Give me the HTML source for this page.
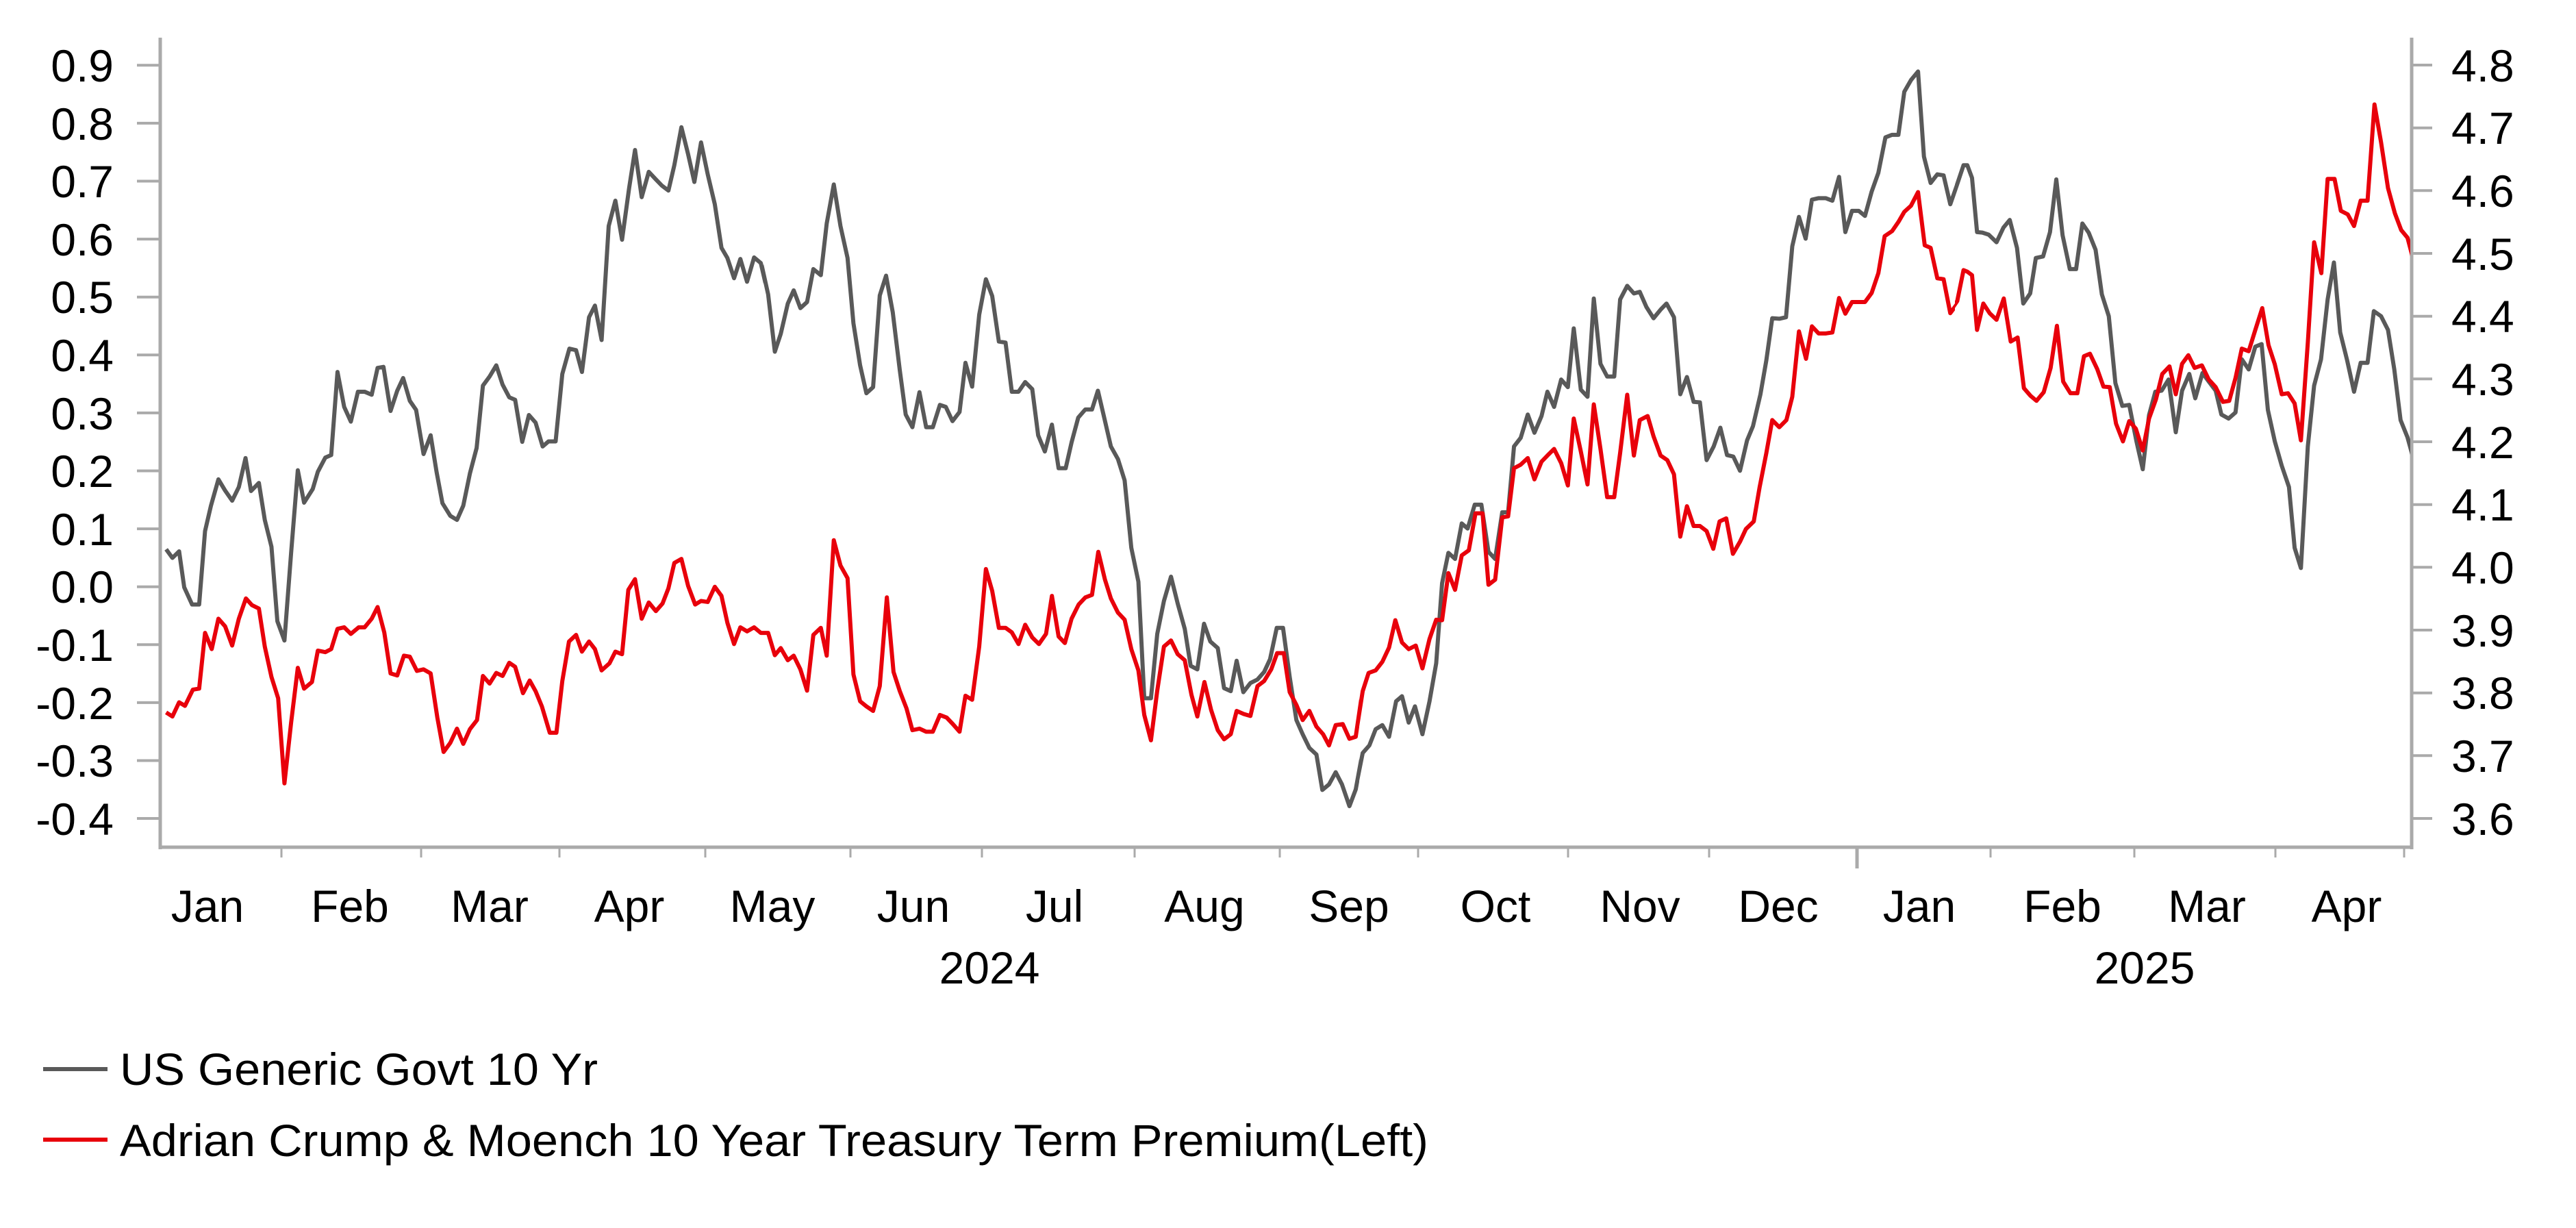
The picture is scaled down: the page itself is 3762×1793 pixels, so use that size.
<!DOCTYPE html>
<html><head><meta charset="utf-8"><style>
html,body{margin:0;padding:0;background:#fff;}
svg{display:block;}
text{font-family:"Liberation Sans",Arial,sans-serif;font-size:66px;fill:#000;}
</style></head><body>
<svg width="3762" height="1793" viewBox="0 0 3762 1793" xmlns="http://www.w3.org/2000/svg">
<defs>
<clipPath id="c1" clipPathUnits="userSpaceOnUse"><rect x="236" y="0" width="879" height="1300"/></clipPath>
<clipPath id="c2" clipPathUnits="userSpaceOnUse"><rect x="1115" y="0" width="870" height="1300"/></clipPath>
<clipPath id="c3" clipPathUnits="userSpaceOnUse"><rect x="1985" y="0" width="870" height="1300"/></clipPath>
<clipPath id="c4" clipPathUnits="userSpaceOnUse"><rect x="2855" y="0" width="665" height="1300"/></clipPath>
</defs>
<g stroke="#aaaaaa" fill="none">
<line x1="234" y1="55" x2="234" y2="1240" stroke-width="5"/>
<line x1="3522" y1="55" x2="3522" y2="1240" stroke-width="5"/>
<line x1="232" y1="1237" x2="3524" y2="1237" stroke-width="5"/>
<g stroke-width="4">
<line x1="200" y1="95.3" x2="234" y2="95.3"/><line x1="200" y1="179.9" x2="234" y2="179.9"/><line x1="200" y1="264.5" x2="234" y2="264.5"/><line x1="200" y1="349.1" x2="234" y2="349.1"/><line x1="200" y1="433.7" x2="234" y2="433.7"/><line x1="200" y1="518.3" x2="234" y2="518.3"/><line x1="200" y1="602.9" x2="234" y2="602.9"/><line x1="200" y1="687.5" x2="234" y2="687.5"/><line x1="200" y1="772.1" x2="234" y2="772.1"/><line x1="200" y1="856.7" x2="234" y2="856.7"/><line x1="200" y1="941.3" x2="234" y2="941.3"/><line x1="200" y1="1025.9" x2="234" y2="1025.9"/><line x1="200" y1="1110.5" x2="234" y2="1110.5"/><line x1="200" y1="1195" x2="234" y2="1195"/>
<line x1="3522" y1="95" x2="3552" y2="95"/><line x1="3522" y1="186.7" x2="3552" y2="186.7"/><line x1="3522" y1="278.3" x2="3552" y2="278.3"/><line x1="3522" y1="370" x2="3552" y2="370"/><line x1="3522" y1="461.7" x2="3552" y2="461.7"/><line x1="3522" y1="553.3" x2="3552" y2="553.3"/><line x1="3522" y1="645" x2="3552" y2="645"/><line x1="3522" y1="736.7" x2="3552" y2="736.7"/><line x1="3522" y1="828.3" x2="3552" y2="828.3"/><line x1="3522" y1="920" x2="3552" y2="920"/><line x1="3522" y1="1011.7" x2="3552" y2="1011.7"/><line x1="3522" y1="1103.3" x2="3552" y2="1103.3"/><line x1="3522" y1="1195" x2="3552" y2="1195"/>
</g>
<g stroke-width="3">
<line x1="411" y1="1237" x2="411" y2="1252"/><line x1="615" y1="1237" x2="615" y2="1252"/><line x1="817" y1="1237" x2="817" y2="1252"/><line x1="1030" y1="1237" x2="1030" y2="1252"/><line x1="1242" y1="1237" x2="1242" y2="1252"/><line x1="1434" y1="1237" x2="1434" y2="1252"/><line x1="1657" y1="1237" x2="1657" y2="1252"/><line x1="1869" y1="1237" x2="1869" y2="1252"/><line x1="2071" y1="1237" x2="2071" y2="1252"/><line x1="2290" y1="1237" x2="2290" y2="1252"/><line x1="2496" y1="1237" x2="2496" y2="1252"/><line x1="2712" y1="1237" x2="2712" y2="1268" stroke-width="5"/><line x1="2907" y1="1237" x2="2907" y2="1252"/><line x1="3117" y1="1237" x2="3117" y2="1252"/><line x1="3323" y1="1237" x2="3323" y2="1252"/><line x1="3511" y1="1237" x2="3511" y2="1252"/>
</g>
</g>
<g text-anchor="end">
<text x="166" y="119">0.9</text><text x="166" y="204">0.8</text><text x="166" y="288">0.7</text><text x="166" y="373">0.6</text><text x="166" y="457">0.5</text><text x="166" y="542">0.4</text><text x="166" y="627">0.3</text><text x="166" y="711">0.2</text><text x="166" y="796">0.1</text><text x="166" y="880">0.0</text><text x="166" y="965">-0.1</text><text x="166" y="1050">-0.2</text><text x="166" y="1134">-0.3</text><text x="166" y="1219">-0.4</text>
</g>
<g>
<text x="3580" y="119">4.8</text><text x="3580" y="210">4.7</text><text x="3580" y="302">4.6</text><text x="3580" y="394">4.5</text><text x="3580" y="485">4.4</text><text x="3580" y="577">4.3</text><text x="3580" y="669">4.2</text><text x="3580" y="760">4.1</text><text x="3580" y="852">4.0</text><text x="3580" y="944">3.9</text><text x="3580" y="1035">3.8</text><text x="3580" y="1127">3.7</text><text x="3580" y="1219">3.6</text>
</g>
<g text-anchor="middle">
<text x="303" y="1346">Jan</text><text x="511" y="1346">Feb</text><text x="715" y="1346">Mar</text><text x="919" y="1346">Apr</text><text x="1128" y="1346">May</text><text x="1334" y="1346">Jun</text><text x="1540" y="1346">Jul</text><text x="1759" y="1346">Aug</text><text x="1970" y="1346">Sep</text><text x="2184" y="1346">Oct</text><text x="2395" y="1346">Nov</text><text x="2597" y="1346">Dec</text><text x="2803" y="1346">Jan</text><text x="3012" y="1346">Feb</text><text x="3223" y="1346">Mar</text><text x="3427" y="1346">Apr</text>
<text x="1445" y="1436">2024</text><text x="3132" y="1436">2025</text>
</g>
<line x1="63" y1="1561" x2="157" y2="1561" stroke="#595959" stroke-width="6"/>
<text x="175" y="1584" textLength="698" lengthAdjust="spacingAndGlyphs">US Generic Govt 10 Yr</text>
<line x1="63" y1="1664" x2="157" y2="1664" stroke="#e8000b" stroke-width="6"/>
<text x="175" y="1688" textLength="1911" lengthAdjust="spacingAndGlyphs">Adrian Crump &amp; Moench 10 Year Treasury Term Premium(Left)</text>

<g fill="none" stroke-width="6" stroke-linejoin="round">
<g clip-path="url(#c1)"><g transform="translate(230,60) scale(0.57398,0.73980)">
<polyline vector-effect="non-scaling-stroke" stroke="#595959" points="22,1003 38,1020 55,1007 68,1078 88,1112 106,1112 121,967 136,917 155,865 172,887 190,907 207,880 224,823 238,888 258,872 273,945 290,998 305,1145 323,1183 340,1010 357,847 373,911 395,884 408,850 427,822 442,817 458,653 475,722 492,751 510,692 527,692 545,698 560,645 575,643 593,730 610,690 625,665 642,710 658,728 677,815 695,778 710,850 725,912 745,937 762,945 778,917 795,853 812,803 828,680 845,662 862,640 878,678 895,703 910,708 928,791 945,738 962,753 980,800 995,790 1013,790 1030,657 1048,607 1065,610 1080,653 1098,545 1113,522 1130,590 1148,365 1165,315 1182,392 1200,290 1215,215 1232,308 1250,258 1268,273 1283,285 1300,295 1315,245 1333,170 1350,223 1366,278 1383,200 1400,263 1418,322 1435,408 1450,428 1467,468 1483,430 1500,475 1518,427 1535,438 1552,495 1568,615"/>
<polyline vector-effect="non-scaling-stroke" stroke="#e8000b" points="22,1325 38,1333 55,1305 70,1312 90,1280 106,1278 121,1168 138,1200 155,1140 172,1155 190,1193 207,1140 225,1100 240,1113 258,1120 273,1195 290,1255 307,1297 323,1465 340,1345 357,1237 373,1278 393,1265 408,1203 427,1206 442,1200 458,1160 475,1157 492,1170 512,1157 527,1157 545,1140 560,1117 577,1167 593,1248 610,1252 627,1213 642,1215 660,1243 677,1240 695,1248 712,1335 728,1403 745,1385 762,1357 778,1387 795,1358 813,1340 828,1253 845,1268 862,1247 878,1253 895,1227 910,1235 930,1287 947,1262 962,1283 978,1313 998,1365 1015,1365 1030,1263 1047,1185 1065,1172 1080,1205 1098,1185 1113,1200 1130,1242 1150,1228 1165,1205 1182,1210 1198,1083 1215,1062 1232,1140 1250,1108 1268,1125 1285,1110 1300,1080 1315,1030 1333,1022 1350,1075 1368,1112 1383,1105 1400,1107 1418,1077 1435,1095 1450,1148 1467,1190 1483,1157 1500,1165 1518,1157 1535,1168 1552,1168 1568,1213"/>
</g></g>
<g clip-path="url(#c2)"><g transform="translate(1100,60) scale(0.57398,0.73980)">
<polyline vector-effect="non-scaling-stroke" stroke="#595959" points="0,440 5,425 20,437 38,500 55,613 70,578 88,518 103,492 120,527 137,515 153,450 172,462 187,360 205,283 222,365 240,428 255,557 272,640 288,695 305,683 322,502 338,463 355,535 373,650 388,737 405,762 423,693 440,762 457,762 475,718 490,722 507,750 525,732 540,635 557,682 575,540 592,470 608,503 625,593 642,595 658,692 675,692 692,673 710,687 725,778 742,810 760,757 777,843 795,843 810,792 827,743 845,727 862,727 877,690 893,743 910,800 928,825 945,867 962,1000 980,1067 995,1297 1012,1297 1028,1170 1045,1105 1063,1057 1080,1110 1098,1160 1113,1233 1130,1240 1147,1150 1163,1185 1182,1198 1198,1277 1215,1283 1230,1223 1247,1285 1265,1267 1283,1260 1300,1245 1315,1220 1332,1158 1348,1158 1365,1255 1382,1340 1398,1368 1415,1395 1433,1408 1448,1478 1465,1467 1482,1443 1498,1467 1517,1510 1533,1477 1550,1405 1568,1393"/>
<polyline vector-effect="non-scaling-stroke" stroke="#e8000b" points="0,1157 8,1160 20,1168 38,1168 55,1212 70,1198 88,1222 103,1213 120,1240 137,1282 153,1172 172,1158 187,1213 205,985 222,1035 240,1060 255,1250 272,1303 288,1313 305,1322 322,1273 340,1098 357,1245 373,1283 390,1317 405,1360 423,1357 440,1363 457,1363 475,1330 492,1335 508,1348 525,1363 540,1292 557,1300 575,1195 592,1042 608,1085 625,1158 642,1158 658,1167 675,1190 692,1152 710,1177 727,1190 745,1170 760,1095 777,1175 793,1188 810,1140 828,1112 845,1098 862,1093 878,1008 895,1063 910,1100 928,1128 945,1142 962,1200 980,1242 995,1330 1012,1380 1028,1282 1045,1195 1063,1183 1080,1210 1098,1222 1115,1290 1130,1333 1148,1265 1165,1320 1182,1360 1198,1378 1215,1368 1230,1322 1248,1328 1265,1332 1283,1273 1300,1263 1318,1240 1333,1208 1350,1208 1365,1285 1382,1310 1398,1340 1415,1322 1433,1353 1450,1368 1465,1390 1482,1350 1500,1348 1517,1377 1533,1373 1550,1283 1568,1243"/>
</g></g>
<g clip-path="url(#c3)"><g transform="translate(1970,60) scale(0.57398,0.73980)">
<polyline vector-effect="non-scaling-stroke" stroke="#595959" points="0,1510 17,1475 35,1405 52,1390 68,1358 85,1350 102,1373 120,1303 135,1293 152,1345 168,1313 187,1368 205,1303 222,1228 237,1070 253,1010 270,1022 287,952 302,962 320,915 337,915 355,1008 372,1022 390,930 405,930 420,800 437,783 455,737 472,773 490,740 505,692 522,722 540,668 557,683 572,567 590,688 607,702 623,508 640,637 657,662 675,662 690,510 708,483 725,498 740,495 757,525 775,547 793,530 808,518 827,545 843,697 860,663 877,712 893,713 910,827 928,800 945,763 962,817 978,820 995,848 1013,788 1028,760 1047,697 1062,630 1077,547 1095,548 1112,545 1128,405 1145,347 1162,390 1178,313 1195,310 1213,310 1230,315 1247,268 1263,377 1280,335 1297,335 1313,345 1330,297 1347,260 1365,190 1382,185 1398,185 1413,100 1430,77 1448,60 1463,228 1480,280 1497,263 1513,265 1530,322 1548,282 1568,243"/>
<polyline vector-effect="non-scaling-stroke" stroke="#e8000b" points="0,1378 17,1372 35,1283 50,1247 68,1242 85,1225 102,1197 118,1143 135,1187 152,1200 170,1193 187,1238 205,1180 222,1142 237,1143 253,1050 270,1083 287,1015 305,1005 322,932 340,932 355,1073 372,1063 390,940 405,938 420,843 437,836 455,823 472,865 490,830 505,818 522,805 540,833 557,877 572,745 590,810 607,875 623,717 640,805 657,900 675,900 690,813 708,698 725,818 740,748 760,740 775,780 793,818 810,827 827,855 843,978 860,918 877,957 893,957 910,967 927,1002 943,948 960,942 977,1012 995,988 1010,963 1030,948 1045,880 1062,813 1077,748 1095,762 1113,748 1128,702 1145,573 1163,627 1178,563 1195,577 1213,577 1230,575 1247,507 1263,538 1280,515 1297,515 1313,515 1330,497 1347,458 1363,385 1382,375 1398,357 1413,337 1430,325 1448,298 1465,403 1480,408 1497,468 1513,470 1530,537 1548,518 1568,450"/>
</g></g>
<g clip-path="url(#c4)"><g transform="translate(2840,60) scale(0.45918,0.73980)">
<polyline vector-effect="non-scaling-stroke" stroke="#595959" points="0,262 18,322 40,282 60,245 72,245 87,270 103,377 120,378 140,382 165,397 187,368 207,353 230,408 250,518 272,498 290,428 313,425 335,377 355,273 375,383 398,450 418,450 438,360 458,378 480,412 500,500 522,543 543,675 565,720 587,718 610,790 630,845 650,738 670,692 690,690 712,668 735,772 755,690 778,657 797,705 820,655 840,672 862,690 880,737 903,745 925,733 945,628 967,648 988,603 1008,598 1028,728 1050,790 1072,838 1095,880 1113,1000 1133,1040 1155,800 1175,680 1197,628 1218,510 1238,437 1258,575 1280,630 1302,692 1323,635 1345,635 1365,533 1388,543 1410,570 1430,648 1450,748 1472,782 1492,827 1515,838 1535,855"/>
<polyline vector-effect="non-scaling-stroke" stroke="#e8000b" points="0,470 18,533 40,513 60,452 72,455 87,462 103,570 123,518 143,537 165,550 188,508 210,593 232,585 252,685 273,700 292,710 315,693 337,645 357,562 377,672 400,695 422,695 443,622 462,617 485,647 505,682 525,683 545,755 567,790 587,750 608,765 630,808 650,745 672,707 692,657 715,642 735,697 755,637 775,620 795,645 818,640 840,668 862,683 885,712 905,710 925,665 945,607 967,612 988,570 1010,527 1030,600 1050,638 1072,697 1092,695 1113,715 1133,788 1155,595 1175,397 1198,458 1218,272 1240,272 1260,335 1282,342 1302,365 1323,315 1345,315 1367,125 1388,200 1410,290 1432,340 1452,373 1472,388 1492,435"/>
</g></g>
</g>
</svg>
</body></html>
